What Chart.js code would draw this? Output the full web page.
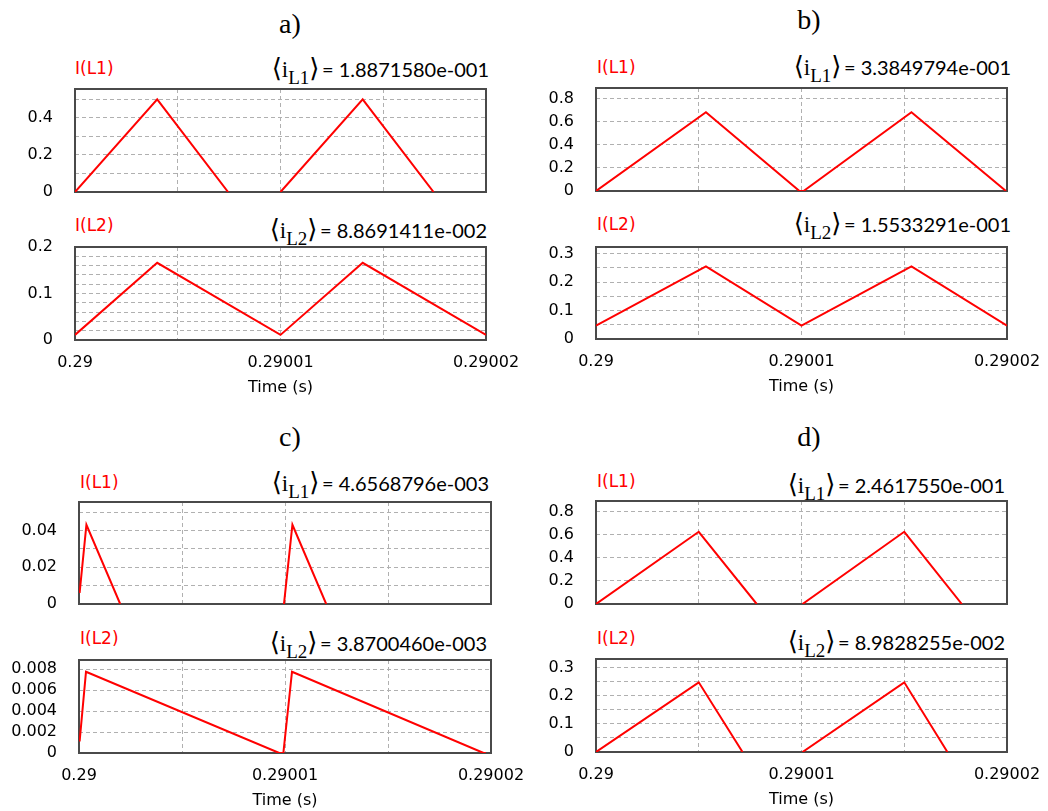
<!DOCTYPE html>
<html>
<head>
<meta charset="utf-8">
<script src="https://cdn.jsdelivr.net/npm/chart.js@4.4.0/dist/chart.umd.min.js"></script>
<style>
  html, body { margin: 0; padding: 0; background: #fff; overflow: hidden; width: 1048px; height: 811px; }
  canvas { position: absolute; }
  .t { position: absolute; white-space: nowrap; line-height: 1; }
  .panel { font-family: "Liberation Serif", "Times New Roman", serif; font-size: 28px; color: #000; transform: translateX(-50%); }
  .sig { font-family: "DejaVu Sans", sans-serif; font-size: 17px; color: #ff0000; transform: translateY(-50%); }
  .eq { font-family: Lato, "Open Sans", sans-serif; font-size: 20px; color: #000; transform: translateY(-50%); }
  .eq .m { font-family: "Liberation Serif", "DejaVu Serif", serif; font-size: 23px; line-height: 0; }
  .eq .br { font-family: "DejaVu Serif", serif; font-size: 26px; line-height: 0; }
  .eq sub { font-size: 19px; vertical-align: -7px; line-height: 0; }
</style>
</head>
<body>
<script>
// Time axis: microseconds after t = 0.29 s
const xTickValues = [0, 5, 10, 15, 20];
const xTickLabels = ['0.29', '', '0.29001', '', '0.29002'];

const panelNames = ['a)', 'b)', 'c)', 'd)'];
const meanL1 = ['1.8871580e-001', '3.3849794e-001', '4.6568796e-003', '2.4617550e-001'];
const meanL2 = ['8.8691411e-002', '1.5533291e-001', '3.8700460e-003', '8.9828255e-002'];

// a) inductor currents
const aL1Time = [0, 4.0, 7.45, 8.7, 10.0, 14.0, 17.45];
const aL1Amp  = [0, 0.5, 0, null, 0, 0.5, 0];
const aL2Time = [0, 4.0, 10.0, 14.0, 20.0];
const aL2Amp  = [0.011, 0.166, 0.011, 0.166, 0.011];

// b)
const bL1Time = [0, 5.35, 9.9, 10.1, 15.35, 19.95];
const bL1Amp  = [0, 0.68, 0, 0, 0.68, 0];
const bL2Time = [0, 5.35, 10.0, 15.35, 20.0];
const bL2Amp  = [0.047, 0.255, 0.047, 0.255, 0.047];

// c)
const cL1Time = [0.03, 0.36, 2.0, 6.0, 9.95, 10.36, 12.0];
const cL1Amp  = [0.006, 0.0432, 0, null, 0, 0.0432, 0];
const cL2Time = [0.03, 0.34, 9.72, 9.92, 10.34, 19.64, 19.75];
const cL2Amp  = [0.0011, 0.00777, 0, 0, 0.00777, 0, 0];

// d)
const dL1Time = [0, 5.0, 7.82, 8.9, 10.05, 15.0, 17.8];
const dL1Amp  = [0, 0.626, 0, null, 0, 0.626, 0];
const dL2Time = [0, 5.0, 7.13, 8.6, 10.05, 15.0, 17.1];
const dL2Amp  = [0, 0.248, 0, null, 0, 0.248, 0];

// y grid values and their labels
const aL1Grid = [0, 0.1, 0.2, 0.3, 0.4, 0.5];
const aL1Ticks = ['0', '', '0.2', '', '0.4', ''];
const aL2Grid = [0, 0.02, 0.04, 0.06, 0.08, 0.1, 0.12, 0.14, 0.16, 0.18, 0.2];
const aL2Ticks = ['0', '', '', '', '', '0.1', '', '', '', '', '0.2'];
const bdL1Grid = [0, 0.2, 0.4, 0.6, 0.8];
const bdL1Ticks = ['0', '0.2', '0.4', '0.6', '0.8'];
const bdL2Grid = [0, 0.05, 0.1, 0.15, 0.2, 0.25, 0.3];
const bdL2Ticks = ['0', '', '0.1', '', '0.2', '', '0.3'];
const cL1Grid = [0, 0.01, 0.02, 0.03, 0.04, 0.05];
const cL1Ticks = ['0', '', '0.02', '', '0.04', ''];
const cL2Grid = [0, 0.002, 0.004, 0.006, 0.008];
const cL2Ticks = ['0', '0.002', '0.004', '0.006', '0.008'];

const tickFont = { family: '"DejaVu Sans", sans-serif', size: 16 };

const frame = {
  id: 'frame',
  beforeDatasetsDraw(chart) {
    const a = chart.chartArea, ctx = chart.ctx;
    ctx.save();
    ctx.setLineDash([]);
    ctx.strokeStyle = '#4a4a4a';
    ctx.lineWidth = 2;
    ctx.strokeRect(a.left, a.top, a.right - a.left, a.bottom - a.top);
    ctx.restore();
  }
};

function addText(cls, html, style) {
  const d = document.createElement('div');
  d.className = 't ' + cls;
  d.innerHTML = html;
  Object.assign(d.style, style);
  document.body.appendChild(d);
}

function makePlot(box, time, amp, yMax, yGrid, yLabels, showX) {
  const padTop = 12, padRight = 40, padBottom = showX ? 2 : 12, yW = 75, xH = showX ? 57 : 0;
  const w = (box.R - box.L) + yW + padRight;
  const h = (box.B - box.T) + padTop + padBottom + xH;
  const c = document.createElement('canvas');
  c.width = w; c.height = h;
  c.style.left = (box.L - yW) + 'px';
  c.style.top = (box.T - padTop) + 'px';
  c.style.width = w + 'px';
  c.style.height = h + 'px';
  document.body.appendChild(c);

  new Chart(c, {
    type: 'line',
    data: {
      datasets: [{
        data: time.map((x, k) => ({ x: x, y: amp[k] })),
        borderColor: '#ff0000',
        borderWidth: 2,
        pointRadius: 0,
        tension: 0,
        spanGaps: false,
        fill: false
      }]
    },
    options: {
      responsive: false,
      animation: false,
      devicePixelRatio: 1,
      layout: { padding: { top: padTop, right: padRight, bottom: padBottom, left: 0 } },
      plugins: { legend: { display: false }, tooltip: { enabled: false } },
      scales: {
        x: {
          type: 'linear', min: 0, max: 20,
          afterBuildTicks: s => { s.ticks = xTickValues.map(v => ({ value: v })); },
          afterFit: s => { s.height = xH; s.paddingLeft = 0; s.paddingRight = 0; },
          ticks: { display: showX, autoSkip: false, maxRotation: 0, padding: 13, font: tickFont, color: '#000',
                   callback: (v, k) => xTickLabels[k] },
          grid: { color: '#b0b0b0', lineWidth: 1, drawTicks: false },
          border: { display: false, dash: [4, 3] },
          title: { display: showX, text: 'Time (s)', font: tickFont, color: '#000', padding: 0 }
        },
        y: {
          type: 'linear', min: 0, max: yMax,
          afterBuildTicks: s => { s.ticks = yGrid.map(v => ({ value: v })); },
          afterFit: s => { s.width = yW; s.paddingTop = 0; s.paddingBottom = 0; },
          ticks: { autoSkip: false, padding: 22, font: tickFont, color: '#000',
                   callback: (v, k) => yLabels[k] },
          grid: { color: '#b0b0b0', lineWidth: 1, drawTicks: false },
          border: { display: false, dash: [4, 3] }
        }
      }
    },
    plugins: [frame]
  });
}

function eqHtml(sub, val) {
  return '<span class="br">\u27E8</span><span class="m">i<sub>' + sub + '</sub></span><span class="br">\u27E9</span>\u2009= ' + val;
}

// panel titles
addText('panel', panelNames[0], { left: '290px', top: '10px' });
addText('panel', panelNames[1], { left: '809px', top: '6px' });
addText('panel', panelNames[2], { left: '290px', top: '423px' });
addText('panel', panelNames[3], { left: '809px', top: '423px' });

// a)
addText('sig', 'I(L1)', { left: '75px', top: '68px' });
addText('eq', eqHtml('L1', meanL1[0]), { right: '559px', top: '69px' });
makePlot({ L: 75, R: 486, T: 89, B: 192 }, aL1Time, aL1Amp, 0.556, aL1Grid, aL1Ticks, false);
addText('sig', 'I(L2)', { left: '75px', top: '225px' });
addText('eq', eqHtml('L2', meanL2[0]), { right: '561px', top: '230px' });
makePlot({ L: 75, R: 486, T: 247, B: 340 }, aL2Time, aL2Amp, 0.2, aL2Grid, aL2Ticks, true);

// b)
addText('sig', 'I(L1)', { left: '597px', top: '67px' });
addText('eq', eqHtml('L1', meanL1[1]), { right: '37px', top: '67px' });
makePlot({ L: 596, R: 1007, T: 88, B: 191 }, bL1Time, bL1Amp, 0.89, bdL1Grid, bdL1Ticks, false);
addText('sig', 'I(L2)', { left: '597px', top: '224px' });
addText('eq', eqHtml('L2', meanL2[1]), { right: '37px', top: '224px' });
makePlot({ L: 596, R: 1007, T: 247, B: 339 }, bL2Time, bL2Amp, 0.323, bdL2Grid, bdL2Ticks, true);

// c)
addText('sig', 'I(L1)', { left: '80px', top: '482px' });
addText('eq', eqHtml('L1', meanL1[2]), { right: '559px', top: '483px' });
makePlot({ L: 79, R: 491, T: 502, B: 604 }, cL1Time, cL1Amp, 0.0556, cL1Grid, cL1Ticks, false);
addText('sig', 'I(L2)', { left: '80px', top: '638px' });
addText('eq', eqHtml('L2', meanL2[2]), { right: '561px', top: '643px' });
makePlot({ L: 79, R: 491, T: 660, B: 753 }, cL2Time, cL2Amp, 0.00889, cL2Grid, cL2Ticks, true);

// d)
addText('sig', 'I(L1)', { left: '597px', top: '481px' });
addText('eq', eqHtml('L1', meanL1[3]), { right: '43px', top: '485px' });
makePlot({ L: 596, R: 1007, T: 501, B: 604 }, dL1Time, dL1Amp, 0.893, bdL1Grid, bdL1Ticks, false);
addText('sig', 'I(L2)', { left: '597px', top: '638px' });
addText('eq', eqHtml('L2', meanL2[3]), { right: '43px', top: '642px' });
makePlot({ L: 596, R: 1007, T: 659, B: 752 }, dL2Time, dL2Amp, 0.331, bdL2Grid, bdL2Ticks, true);
</script>
</body>
</html>
